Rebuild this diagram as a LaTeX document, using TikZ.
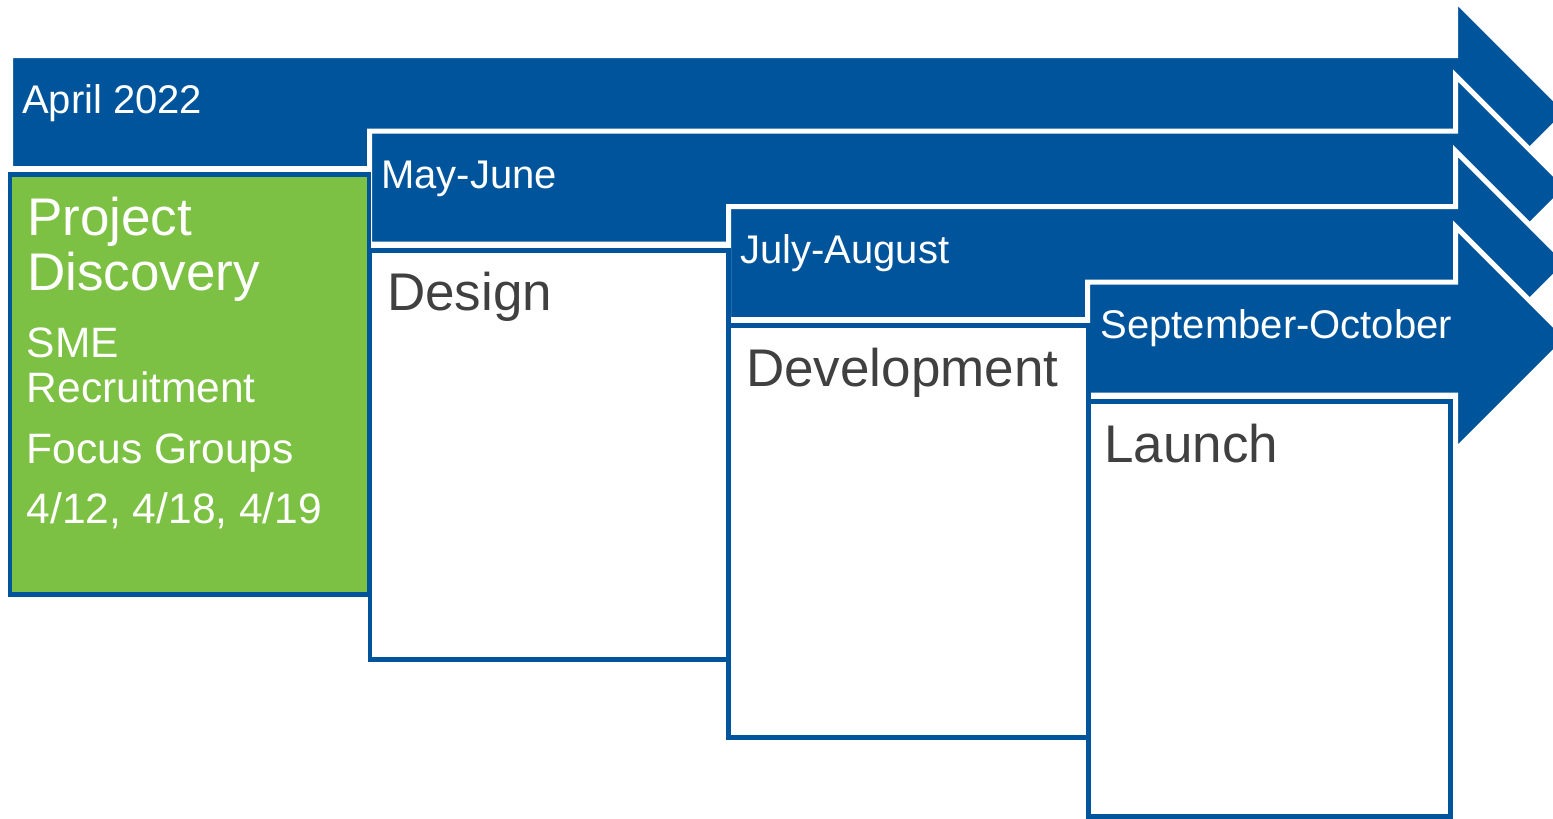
\documentclass[tikz,border=0pt]{standalone}
\usepackage{fontspec}
\setmainfont{Liberation Sans}
\usepackage{xcolor}

\definecolor{planblue}{RGB}{0,84,155}
\definecolor{plangreen}{RGB}{124,193,67}
\definecolor{plangray}{RGB}{64,64,64}

% one phase arrow: left x, top y of its shaft
\newcommand{\phasearrow}[2]{%
  \filldraw[phase] (#1,#2) -- (1455.5,#2) -- (1455.5,#2-55.5)
    -- (1567.5,#2+56.5) -- (1455.5,#2+168.5) -- (1455.5,#2+113)
    -- (#1,#2+113) -- cycle;}

\begin{document}
\begin{tikzpicture}[
    x = 1pt, y = -1pt,
    phase/.style = {fill=planblue, draw=white, line width=5pt, line join=miter},
    stagebox/.style = {draw=planblue, line width=4.5pt, fill=white},
    datelabel/.style = {anchor=base west, inner sep=0pt, text=white,
      font=\fontsize{40}{48}\selectfont},
    stagelabel/.style = {anchor=base west, inner sep=0pt, text=plangray,
      font=\fontsize{53}{60}\selectfont},
    notelabel/.style = {anchor=base west, inner sep=0pt, text=white,
      font=\fontsize{42.5}{48}\selectfont}
  ]

  \useasboundingbox (0,0) rectangle (1553,819);
  \clip (0,0) rectangle (1553,819);

  % timeline arrows
  \phasearrow{10.5}{55.5}
  \phasearrow{369.5}{131}
  \phasearrow{728.5}{206.5}
  \phasearrow{1087.5}{282}

  \node[datelabel] (apr) at (22,113) {April 2022};
  \node[datelabel] (mayjun) at (381,188) {May-June};
  \node[datelabel] (julaug) at (740,263.5) {July-August};
  \node[datelabel] (sepoct) at (1100.5,338) {September-October};

  % stage boxes
  \draw[stagebox, fill=plangreen] (10,174.5) rectangle (369,594.5);
  \draw[stagebox] (370,250.5) rectangle (728.5,659.5);
  \draw[stagebox] (728.5,325.5) rectangle (1088.5,737.5);
  \draw[stagebox] (1088.5,401.5) rectangle (1450.5,816.5);

  \node[stagelabel, text=white] (project) at (27,235) {Project};
  \node[stagelabel, text=white] (discovery) at (27,290) {Discovery};
  \node[notelabel] (sme) at (26.5,357) {SME};
  \node[notelabel] (recruit) at (26.5,402) {Recruitment};
  \node[notelabel] (focus) at (26.5,463) {Focus Groups};
  \node[notelabel] (dates) at (26.5,523) {4/12, 4/18, 4/19};

  \node[stagelabel] (design) at (387,310) {Design};
  \node[stagelabel] (develop) at (746,386) {Development};
  \node[stagelabel] (launch) at (1104,462) {Launch};

\end{tikzpicture}
\end{document}
